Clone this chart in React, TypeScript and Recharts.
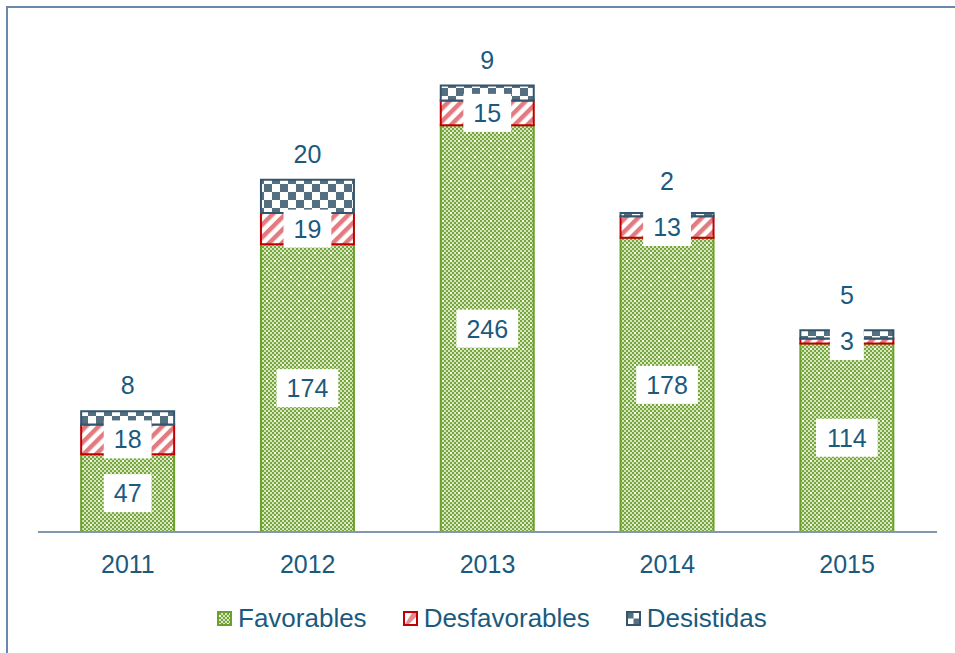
import React from 'react';
import { Bar, BarChart, LabelList, XAxis, YAxis } from 'recharts';

const YEARS = ['2011', '2012', '2013', '2014', '2015'];
const FAVORABLES = [47, 174, 246, 178, 114];
const DESFAVORABLES = [18, 19, 15, 13, 3];
const DESISTIDAS = [8, 20, 9, 2, 5];
const SERIES_NAMES = ['Favorables', 'Desfavorables', 'Desistidas'];

const DATA = YEARS.map((year, i) => ({
  year,
  favorables: FAVORABLES[i],
  desfavorables: DESFAVORABLES[i],
  desistidas: DESISTIDAS[i],
}));

const TEXT = '#1b5a7f';
const FONT = '"Liberation Sans", Arial, sans-serif';

// white box with the number, centred in the segment
const BoxedLabel: React.FC<any> = ({ x, y, width, height, value }) => {
  if (value == null) return null;
  const top = Math.min(y, y + height);
  const cx = x + width / 2;
  const cy = top + Math.abs(height) / 2;
  const w = String(value).length * 13.9 + 20;
  return (
    <g>
      <rect x={cx - w / 2} y={cy - 19} width={w} height={38} fill="#fff" />
      <text x={cx} y={cy} textAnchor="middle" dominantBaseline="central" fill={TEXT} fontSize={25} fontFamily={FONT}>
        {value}
      </text>
    </g>
  );
};

// label above the bar, pushed up if it would hit the red label box
const TopLabel: React.FC<any> = ({ x, y, width, height, value, index }) => {
  if (value == null) return null;
  const top = Math.min(y, y + height);
  const h = Math.abs(height);
  let ly = top - 26;
  if (index != null && value > 0) {
    const k = h / value;
    const dh = DESFAVORABLES[index] * k;
    ly = Math.min(ly, top + h + dh / 2 - 19 - 27);
  }
  return (
    <text x={x + width / 2} y={ly} textAnchor="middle" dominantBaseline="central" fill={TEXT} fontSize={25} fontFamily={FONT}>
      {value}
    </text>
  );
};

const LegendIcon: React.FC<{ i: number }> = ({ i }) => (
  <svg width={15} height={15} style={{ display: 'block' }}>
    {i === 0 && (
      <>
        <rect x={1} y={1} width={13} height={13} fill="url(#pat-fav)" stroke="#6aa12a" strokeWidth={2} />
      </>
    )}
    {i === 1 && (
      <>
        <rect x={1} y={1} width={13} height={13} fill="#fff" stroke="#c00000" strokeWidth={2} />
        <path d="M9 2 L13 2 L13 6 L6 13 L2 13 Z" fill="#e58a8e" />
      </>
    )}
    {i === 2 && (
      <>
        <rect x={1} y={1} width={13} height={13} fill="#fff" stroke="#34566c" strokeWidth={2} />
        <rect x={2} y={2} width={5.5} height={5.5} fill="#546f80" />
        <rect x={7.5} y={7.5} width={5.5} height={5.5} fill="#546f80" />
      </>
    )}
  </svg>
);

export default function App() {
  return (
    <div
      style={{
        position: 'absolute',
        left: 0,
        top: 0,
        width: 955,
        height: 653,
        overflow: 'hidden',
        background: '#fff',
        fontFamily: FONT,
      }}
    >
      <div
        style={{
          position: 'absolute',
          left: 6,
          top: 6,
          width: 1000,
          height: 700,
          borderLeft: '2px solid #6a87ad',
          borderTop: '2px solid #6a87ad',
        }}
      />
      <div style={{ position: 'absolute', left: 0, top: 0 }}>
        <BarChart
          width={955}
          height={653}
          data={DATA}
          margin={{ top: 36, right: 18, bottom: 61, left: 38 }}
          barCategoryGap="24%"
        >
          <defs>
            <pattern id="pat-fav" width={16} height={16} patternUnits="userSpaceOnUse">
              <rect width={16} height={16} fill="#d6e6c0" />
              {[0, 4, 8, 12].map((px) =>
                [0, 4, 8, 12].map((py) => (
                  <g key={`${px}-${py}`}>
                    <rect x={px} y={py} width={2} height={2} fill="#76a63c" />
                    <rect x={px + 2} y={py + 2} width={2} height={2} fill="#76a63c" />
                  </g>
                ))
              )}
              <rect x={2} y={4} width={2} height={2} fill="#fff" />
              <rect x={10} y={12} width={2} height={2} fill="#fff" />
            </pattern>
            <pattern id="pat-desfav" width={9} height={9} patternUnits="userSpaceOnUse" patternTransform="rotate(45)">
              <rect width={9} height={9} fill="#fff" />
              <rect width={4.5} height={9} fill="#e27b80" />
            </pattern>
            <pattern id="pat-desist" width={16} height={16} patternUnits="userSpaceOnUse">
              <rect width={16} height={16} fill="#fff" />
              <rect width={8} height={8} fill="#546f80" />
              <rect x={8} y={8} width={8} height={8} fill="#546f80" />
            </pattern>
          </defs>
          <XAxis
            dataKey="year"
            axisLine={{ stroke: '#8497b0', strokeWidth: 2 }}
            tickLine={false}
            tickSize={0}
            tickMargin={23}
            height={60}
            tick={{ fill: TEXT, fontSize: 25, fontFamily: FONT }}
          />
          <YAxis hide domain={[0, 300]} />
          <Bar dataKey="favorables" stackId="a" fill="url(#pat-fav)" stroke="#6aa12a" strokeWidth={2} isAnimationActive={false}>
            <LabelList dataKey="favorables" content={<BoxedLabel />} />
          </Bar>
          <Bar dataKey="desfavorables" stackId="a" fill="url(#pat-desfav)" stroke="#c00000" strokeWidth={2} isAnimationActive={false}>
            <LabelList dataKey="desfavorables" content={<BoxedLabel />} />
          </Bar>
          <Bar dataKey="desistidas" stackId="a" fill="url(#pat-desist)" stroke="#34566c" strokeWidth={2} isAnimationActive={false}>
            <LabelList dataKey="desistidas" content={<TopLabel />} />
          </Bar>
        </BarChart>
      </div>
      <div
        style={{
          position: 'absolute',
          left: 217,
          top: 603,
          display: 'flex',
          alignItems: 'center',
          fontSize: 26,
          color: TEXT,
          lineHeight: '30px',
        }}
      >
        {SERIES_NAMES.map((name, i) => (
          <div key={name} style={{ display: 'flex', alignItems: 'center', marginRight: 36 }}>
            <LegendIcon i={i} />
            <span style={{ marginLeft: 6 }}>{name}</span>
          </div>
        ))}
      </div>
    </div>
  );
}
